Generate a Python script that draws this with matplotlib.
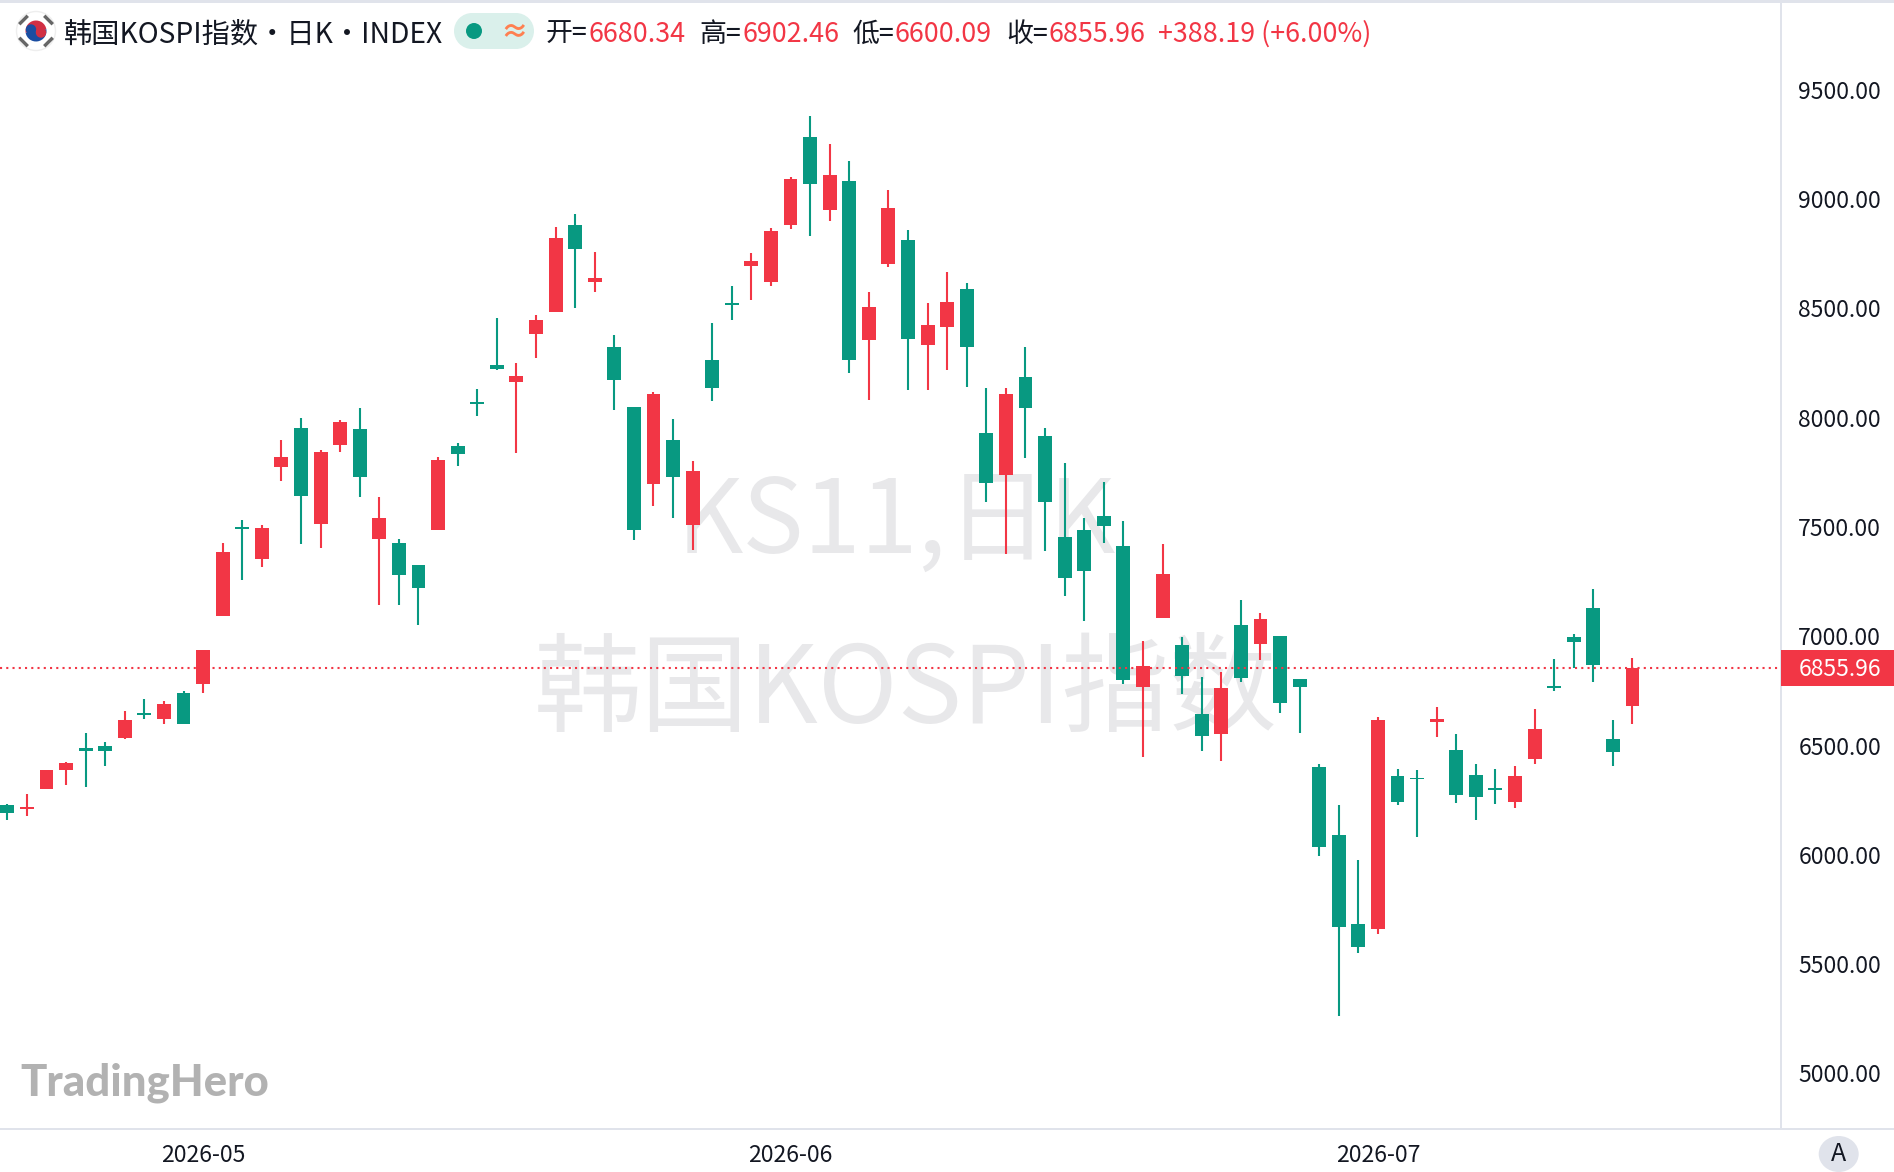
import matplotlib
matplotlib.use("Agg")
import matplotlib.pyplot as plt
from matplotlib.patches import Circle, Ellipse, Rectangle, Wedge

plt.rcParams['font.family'] = ['Noto Sans CJK SC', 'DejaVu Sans']

# daily candles
opens = [6229, 6212, 6303, 6390, 6489, 6498, 6536, 6649, 6623, 6741, 6783, 7094, 7500, 7355,
         7776, 7953, 7515, 7877, 7949, 7447, 7427, 7326, 7488, 7871, 8072, 8241, 8165, 8384,
         8485, 8882, 8621, 8324, 8049, 7698, 7898, 7511, 8264, 8525, 8696, 8622, 8883, 9284,
         8952, 9083, 8357, 8705, 8813, 8334, 8416, 8589, 7930, 7739, 8186, 7916, 7454, 7486,
         7551, 7413, 6770, 7086, 6959, 6645, 6555, 7052, 6967, 7002, 6805, 6403, 6091, 5684,
         5663, 6361, 6352, 6606, 6480, 6366, 6306, 6244, 6440, 6773, 6997, 7130, 6530, 6680.34]
highs = [6233, 6279, 6389, 6425, 6558, 6517, 6658, 6713, 6704, 6750, 6938, 7427, 7532, 7509,
         7898, 7999, 7852, 7990, 8045, 7637, 7445, 7326, 7820, 7884, 8131, 8456, 8250, 8470,
         8873, 8932, 8758, 8379, 8049, 8118, 7994, 7802, 8433, 8603, 8754, 8868, 9101, 9380,
         9252, 9175, 8575, 9042, 8859, 8525, 8667, 8616, 8136, 8136, 8324, 7953, 7793, 7541,
         7706, 7528, 6979, 7422, 6997, 6814, 6837, 7166, 7107, 7002, 6805, 6416, 6228, 5977,
         6631, 6393, 6389, 6677, 6553, 6416, 6393, 6407, 6668, 6896, 7011, 7217, 6617, 6902.46]
lows = [6161, 6180, 6303, 6321, 6312, 6408, 6532, 6623, 6600, 6600, 6742, 7094, 7259, 7319,
        7712, 7424, 7405, 7845, 7639, 7145, 7145, 7053, 7488, 7781, 8009, 8218, 7839, 8275,
        8485, 8503, 8577, 8037, 7442, 7598, 7543, 7396, 8078, 8448, 8540, 8604, 8865, 8833,
        8901, 8206, 8082, 8691, 8128, 8128, 8220, 8142, 7616, 7378, 7817, 7392, 7185, 7068,
        7428, 6783, 6450, 7086, 6734, 6476, 6431, 6793, 6893, 6650, 6559, 5996, 5265, 5552,
        5636, 6226, 6084, 6541, 6238, 6161, 6235, 6216, 6417, 6751, 6855, 6793, 6405, 6600.09]
closes = [6193, 6219, 6389, 6421, 6477, 6477, 6617, 6642, 6690, 6600, 6938, 7386, 7492, 7496,
          7820, 7643, 7843, 7980, 7730, 7541, 7282, 7222, 7807, 7836, 8064, 8223, 8191, 8447,
          8822, 8773, 8639, 8174, 7488, 8109, 7730, 7756, 8137, 8517, 8717, 8854, 9092, 9071,
          9110, 8265, 8507, 8959, 8362, 8424, 8529, 8325, 7703, 8109, 8046, 7616, 7268, 7301,
          7506, 6802, 6865, 7285, 6819, 6546, 6764, 6807, 7079, 6697, 6770, 6034, 5668, 5580,
          6617, 6244, 6345, 6622, 6275, 6263, 6298, 6361, 6576, 6764, 6972, 6867, 6473, 6855.96]

price_ticks = [5000, 5500, 6000, 6500, 7000, 7500, 8000, 8500, 9000, 9500]
date_ticks = [10, 40, 70]
date_labels = ['2026-05', '2026-06', '2026-07']
last_price = 6855.96

W, H = 1894, 1172
GREEN = '#089981'
RED = '#f23645'
LINE = '#e0e3eb'
INK = '#131722'

fig = plt.figure(figsize=(W / 100, H / 100), dpi=100, facecolor='white')

# watermark layer sits under the candles
bg = fig.add_axes([0, 0, 1, 1], zorder=0)
bg.set_xlim(0, W)
bg.set_ylim(H, 0)
bg.axis('off')
bg.text(896, 523, 'KS11,日K', fontsize=74, color='#e8e8ea', ha='center', va='center')
bg.text(906, 692, '韩国KOSPI指数', fontsize=77.5, color='#e8e8ea', ha='center', va='center')

# price pane
ax = fig.add_axes([0, 1 - 1129 / H, 1781 / W, 1129 / H], zorder=1)
ax.patch.set_alpha(0)
ax.set_xlim(-0.373, 90.585)
ax.set_ylim(4746, 9911)

for i in range(len(opens)):
    col = RED if closes[i] >= opens[i] else GREEN
    ax.vlines(i, lows[i], highs[i], color=col, lw=1.5, zorder=2)
    ax.bar(i, abs(closes[i] - opens[i]), bottom=min(opens[i], closes[i]), width=0.71,
           color=col, linewidth=0, zorder=3)

ax.axhline(last_price, color=RED, lw=1.5, linestyle=(0, (1, 2)), zorder=4)

for s in ['top', 'left', 'right', 'bottom']:
    ax.spines[s].set_visible(False)
ax.yaxis.tick_right()
ax.set_yticks(price_ticks)
ax.set_yticklabels(['%.2f' % p for p in price_ticks], fontsize=16.6, color=INK, ha='right')
ax.tick_params(axis='y', length=0, pad=72)
ax.set_xticks(date_ticks)
ax.set_xticklabels(date_labels, fontsize=16.6, color=INK)
ax.tick_params(axis='x', length=0, pad=10.5)

# chrome on top, pixel coordinates
top = fig.add_axes([0, 0, 1, 1], zorder=2)
top.set_xlim(0, W)
top.set_ylim(H, 0)
top.axis('off')
top.patch.set_alpha(0)

top.add_patch(Rectangle((0, 0), W, 3, color=LINE, lw=0))
top.add_patch(Rectangle((1780, 3), 2, 1126, color=LINE, lw=0))
top.add_patch(Rectangle((0, 1128), W, 2, color=LINE, lw=0))

# last price tag
top.add_patch(Rectangle((1781, 650), 113, 36, color=RED, lw=0))
top.text(1881, 669, '6855.96', color='white', fontsize=16.6, fontweight='medium', ha='right', va='center')

# auto scale button
top.add_patch(Ellipse((1838.7, 1154), 40, 36, color=LINE, lw=0))
top.text(1838.7, 1154, 'A', color=INK, fontsize=18, ha='center', va='center')

# flag
top.add_patch(Circle((36, 31), 19.5, facecolor='white', edgecolor='#eeeeee', lw=1))
top.add_patch(Wedge((36, 31), 10.5, 170, 350, color='#d02f44', lw=0))
top.add_patch(Wedge((36, 31), 10.5, 350, 170, color='#1a4da1', lw=0))
top.add_patch(Circle((31, 29.5), 5.2, color='#1a4da1', lw=0))
top.add_patch(Circle((41, 32.5), 5.2, color='#d02f44', lw=0))
for bx, by, ang in [(23.5, 20, 135), (48.5, 20, 45), (23.5, 42, 45), (48.5, 42, 135)]:
    top.add_patch(Rectangle((bx - 6, by - 1.7), 12, 3.4, angle=ang, rotation_point='center',
                            color='#666666', lw=0))

# header
top.text(64, 34, '韩国KOSPI指数・日K・INDEX', fontsize=20.3, color=INK, va='center')
top.add_patch(Rectangle((472, 13), 44, 36, color='#daf0eb', lw=0))
top.add_patch(Circle((472, 31), 18, color='#daf0eb', lw=0))
top.add_patch(Circle((516, 31), 18, color='#daf0eb', lw=0))
top.add_patch(Circle((474, 31), 8, color=GREEN, lw=0))
top.text(514, 33, '≈', fontsize=20, color='#ff7f50', ha='center', va='center', fontweight='bold')

for x, s, c in [(546, '开=', INK), (588, '6680.34', RED),
                (699, '高=', INK), (742, '6902.46', RED),
                (852, '低=', INK), (894, '6600.09', RED),
                (1006, '收=', INK), (1049, '6855.96', RED),
                (1158, '+388.19 (+6.00%)', RED)]:
    top.text(x, 34, s, fontsize=19.4, color=c, va='center')

# logo
top.text(20, 1083, 'TradingHero', fontsize=31.5, color='#b2b2b2', fontweight='black',
         family='Lato', va='center')

fig.savefig('out.png', dpi=100)
